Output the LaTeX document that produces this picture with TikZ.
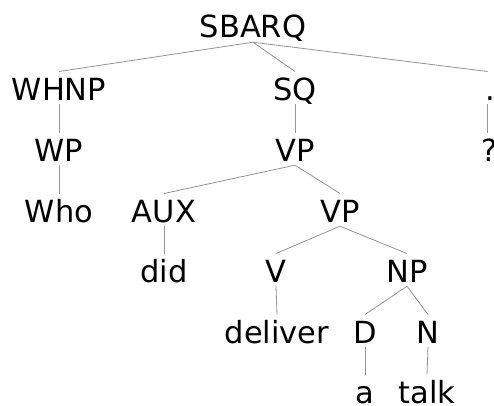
\documentclass[tikz,border=0pt]{standalone}
\usepackage{fontspec}
\setmainfont{DejaVu Sans}
\begin{document}
\begin{tikzpicture}[x=1pt,y=1pt,
  tn/.style={anchor=base,inner xsep=0pt,inner ysep=4pt,text height=24.3pt,text depth=0pt,font=\fontsize{30.5}{36}\selectfont},
  br/.style={draw=black!42,line width=0.8pt}]
\useasboundingbox (0,0) rectangle (494,405);
% rows (baseline y)
\node[tn] (sbarq) at (253,367) {SBARQ};
\node[tn] (whnp) at (59,305) {WHNP};
\node[tn] (sq) at (295,305) {SQ};
\node[tn] (dot) at (490.5,305) {.};
\node[tn] (wp) at (59,244) {WP};
\node[tn] (vp1) at (295,244) {VP};
\node[tn] (qm) at (489.5,244) {?};
\node[tn] (who) at (59,183) {Who};
\node[tn] (aux) at (164,183) {AUX};
\node[tn] (vp2) at (340,183) {VP};
\node[tn] (did) at (164,123) {did};
\node[tn] (v) at (276,123) {V};
\node[tn] (np) at (407,123) {NP};
\node[tn] (deliver) at (277,62) {deliver};
\node[tn] (d) at (365,62) {D};
\node[tn] (n) at (428,62) {N};
\node[tn] (a) at (365,2) {a};
\node[tn] (talk) at (427,2) {talk};
% branches
\draw[br] (sbarq.south) -- (whnp.north);
\draw[br] (sbarq.south) -- (sq.north);
\draw[br] (sbarq.south) -- ([xshift=-2.8pt]dot.north);
\draw[br] (whnp.south) -- (wp.north);
\draw[br] (sq.south) -- (vp1.north);
\draw[br] ([xshift=-2.8pt]dot.south) -- ([xshift=-1.8pt]qm.north);
\draw[br] (wp.south) -- (who.north);
\draw[br] (vp1.south) -- (aux.north);
\draw[br] (vp1.south) -- (vp2.north);
\draw[br] (aux.south) -- (did.north);
\draw[br] (vp2.south) -- (v.north);
\draw[br] (vp2.south) -- (np.north);
\draw[br] (v.south) -- (deliver.north);
\draw[br] (np.south) -- (d.north);
\draw[br] (np.south) -- (n.north);
\draw[br] (d.south) -- (a.north);
\draw[br] (n.south) -- (talk.north);
\end{tikzpicture}
\end{document}
